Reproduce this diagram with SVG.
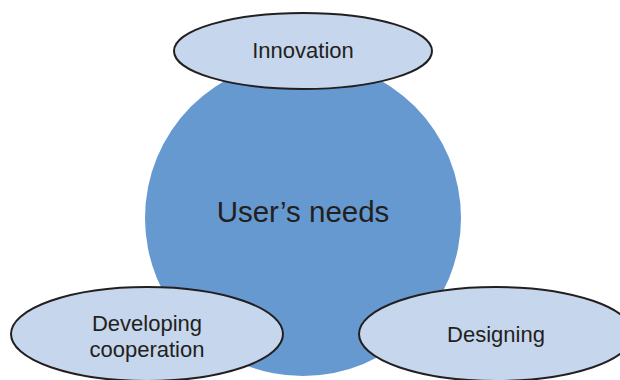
<svg xmlns="http://www.w3.org/2000/svg" width="620" height="380" viewBox="0 0 620 380">
<style>
.oval{fill:#c6d6ec;stroke:#231f20;stroke-width:2}
.t{font-family:"Liberation Sans",Arial,sans-serif;fill:#231f20;text-anchor:middle}
</style>
<rect width="620" height="380" fill="#ffffff"/>
<g id="users-needs">
<circle cx="303" cy="218" r="158" fill="#6599d0"/>
<text class="t" x="303" y="222" font-size="29.5">User’s needs</text>
</g>
<g id="innovation">
<ellipse class="oval" cx="303" cy="51" rx="129" ry="38"/>
<text class="t" x="303" y="58" font-size="22">Innovation</text>
</g>
<g id="developing-cooperation">
<ellipse class="oval" cx="147" cy="334" rx="136" ry="47"/>
<text class="t" x="147" y="331" font-size="22">Developing</text>
<text class="t" x="147" y="357" font-size="22">cooperation</text>
</g>
<g id="designing">
<ellipse class="oval" cx="496" cy="334" rx="137" ry="47"/>
<text class="t" x="496" y="342" font-size="22">Designing</text>
</g>
<g id="connectors"></g>
</svg>
